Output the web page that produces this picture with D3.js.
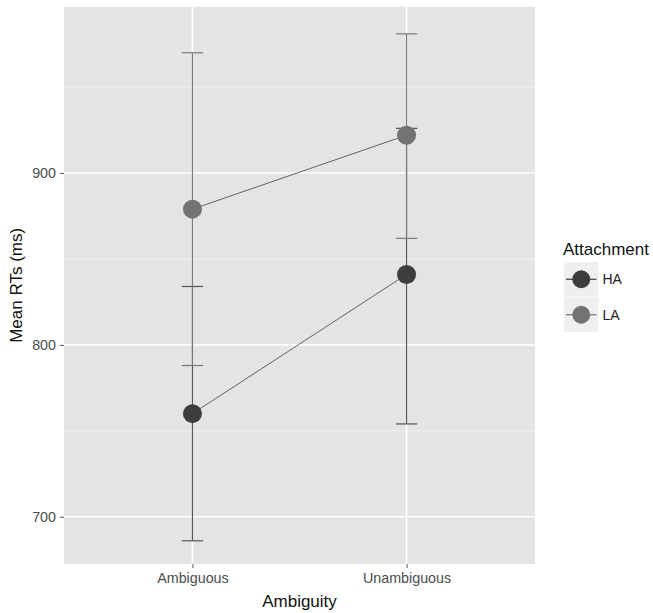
<!DOCTYPE html>
<html>
<head>
<meta charset="utf-8">
<script src="https://cdn.jsdelivr.net/npm/d3@7"></script>
<style>
  body { margin: 0; background: #fff; }
  svg { font-family: "Liberation Sans", Arial, sans-serif; }
</style>
</head>
<body>
<div id="chart"></div>
<script>
// data
const categories = ["Ambiguous", "Unambiguous"];
const groups = ["HA", "LA"];
const haMeans = [760, 841];
const haLower = [686, 754];
const haUpper = [834, 926];
const laMeans = [879, 922];
const laLower = [788, 862];
const laUpper = [970, 981];
const yTicks = [700, 800, 900];
const yMinor = [750, 850, 950];

const series = [
  { name: "HA", means: haMeans, lower: haLower, upper: haUpper, fill: "#3d3d3d", bar: "#555555" },
  { name: "LA", means: laMeans, lower: laLower, upper: laUpper, fill: "#737373", bar: "#7a7a7a" }
];

const width = 653, height = 613;
const panel = { left: 64, right: 535, top: 6.7, bottom: 564 };

const svg = d3.select("#chart")
  .append("svg")
  .attr("width", width)
  .attr("height", height);

// ggplot style discrete x: 0.6 units of expansion each side of a 2-level axis
const step = (panel.right - panel.left) / 2.2;
const xScale = d3.scalePoint()
  .domain(categories)
  .range([panel.left + 0.6 * step, panel.right - 0.6 * step]);

const yScale = d3.scaleLinear()
  .domain([672.5, 996.8])
  .range([panel.bottom, panel.top]);

// panel background
svg.append("rect")
  .attr("x", panel.left)
  .attr("y", panel.top)
  .attr("width", panel.right - panel.left)
  .attr("height", panel.bottom - panel.top)
  .attr("fill", "#e4e4e6");

// grid lines
svg.append("g").selectAll("line")
  .data(yMinor)
  .enter().append("line")
  .attr("x1", panel.left).attr("x2", panel.right)
  .attr("y1", d => yScale(d)).attr("y2", d => yScale(d))
  .attr("stroke", "#f4f4f4").attr("stroke-width", 0.8);

svg.append("g").selectAll("line")
  .data(yTicks)
  .enter().append("line")
  .attr("x1", panel.left).attr("x2", panel.right)
  .attr("y1", d => yScale(d)).attr("y2", d => yScale(d))
  .attr("stroke", "#ffffff").attr("stroke-width", 1.6);

svg.append("g").selectAll("line")
  .data(categories)
  .enter().append("line")
  .attr("x1", d => xScale(d)).attr("x2", d => xScale(d))
  .attr("y1", panel.top).attr("y2", panel.bottom)
  .attr("stroke", "#ffffff").attr("stroke-width", 1.6);

// axes
const yAxis = d3.axisLeft(yScale).tickValues(yTicks).tickSize(4).tickPadding(4);
const yG = svg.append("g")
  .attr("transform", "translate(" + panel.left + ",0)")
  .call(yAxis);

const xAxis = d3.axisBottom(xScale).tickSize(4).tickPadding(5);
const xG = svg.append("g")
  .attr("transform", "translate(0," + panel.bottom + ")")
  .call(xAxis);

[yG, xG].forEach(g => {
  g.select(".domain").remove();
  g.selectAll(".tick line").attr("stroke", "#555");
  g.selectAll(".tick text")
    .attr("fill", "#4d4d4d")
    .style("font-size", "14.3px")
    .style("font-family", "Liberation Sans, Arial, sans-serif");
});

// axis titles
svg.append("text")
  .attr("x", (panel.left + panel.right) / 2)
  .attr("y", 607)
  .attr("text-anchor", "middle")
  .style("font-size", "17px")
  .attr("fill", "#111")
  .text("Ambiguity");

svg.append("text")
  .attr("transform", "rotate(-90)")
  .attr("x", -(panel.top + panel.bottom) / 2)
  .attr("y", 22)
  .attr("text-anchor", "middle")
  .style("font-size", "17px")
  .attr("fill", "#111")
  .text("Mean RTs (ms)");

// error bars
const capHalf = 0.05 * step;
series.forEach(s => {
  const g = svg.append("g");
  categories.forEach((c, i) => {
    const x = xScale(c);
    g.append("line")
      .attr("x1", x).attr("x2", x)
      .attr("y1", yScale(s.lower[i])).attr("y2", yScale(s.upper[i]))
      .attr("stroke", s.bar).attr("stroke-width", 1.2);
    [s.lower[i], s.upper[i]].forEach(v => {
      g.append("line")
        .attr("x1", x - capHalf).attr("x2", x + capHalf)
        .attr("y1", yScale(v)).attr("y2", yScale(v))
        .attr("stroke", s.bar).attr("stroke-width", 1.2);
    });
  });
});

// connecting lines
const line = d3.line()
  .x((d, i) => xScale(categories[i]))
  .y(d => yScale(d));

series.forEach(s => {
  svg.append("path")
    .datum(s.means)
    .attr("d", line)
    .attr("fill", "none")
    .attr("stroke", "#555")
    .attr("stroke-width", 0.9);
});

// points
series.forEach(s => {
  svg.append("g").selectAll("circle")
    .data(s.means)
    .enter().append("circle")
    .attr("cx", (d, i) => xScale(categories[i]))
    .attr("cy", d => yScale(d))
    .attr("r", 9.5)
    .attr("fill", s.fill);
});

// legend
const legend = svg.append("g").attr("transform", "translate(564,262)");
legend.append("text")
  .attr("x", -1)
  .attr("y", -7)
  .style("font-size", "17px")
  .attr("fill", "#111")
  .text("Attachment");

const keySize = 34.5;
groups.forEach((gname, i) => {
  const s = series.find(d => d.name === gname);
  const k = legend.append("g").attr("transform", "translate(0," + (i * (keySize + 1)) + ")");
  k.append("rect")
    .attr("width", keySize).attr("height", keySize)
    .attr("fill", "#efeff0");
  k.append("line")
    .attr("x1", 2).attr("x2", keySize - 2)
    .attr("y1", keySize / 2).attr("y2", keySize / 2)
    .attr("stroke", s.fill).attr("stroke-width", 1.2);
  k.append("circle")
    .attr("cx", keySize / 2).attr("cy", keySize / 2)
    .attr("r", 9)
    .attr("fill", s.fill);
  k.append("text")
    .attr("x", keySize + 4)
    .attr("y", keySize / 2)
    .attr("dy", "0.35em")
    .style("font-size", "14px")
    .attr("fill", "#222")
    .text(gname);
});
</script>
</body>
</html>
